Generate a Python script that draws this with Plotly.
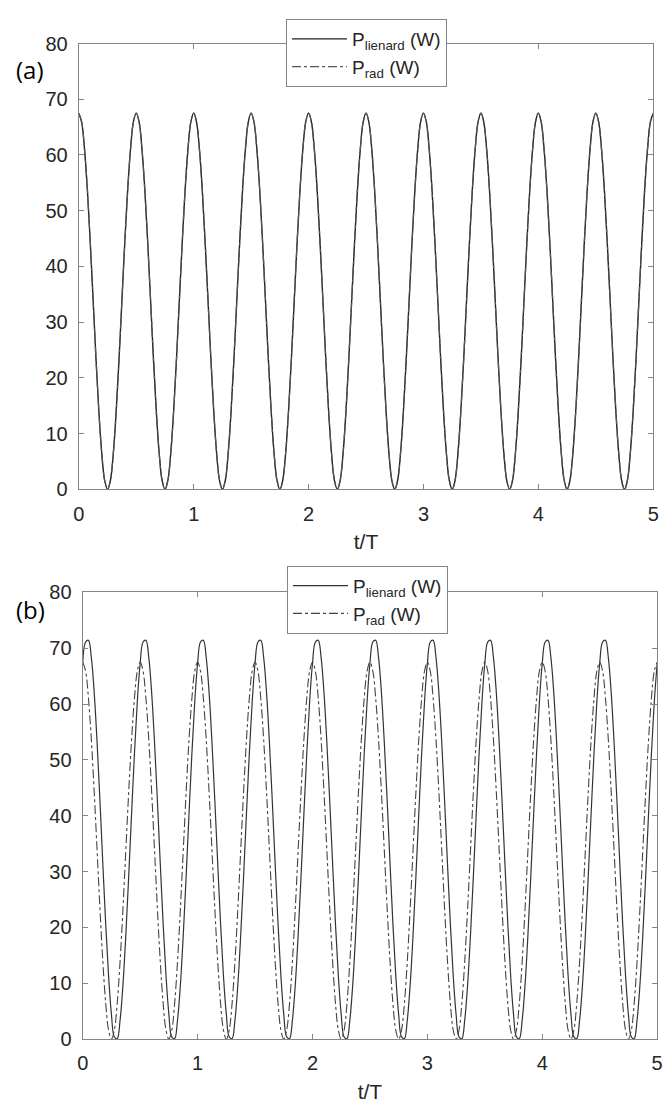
import plotly.graph_objects as go

# grade de tempo normalizado (t/T), passo 0.025
t_over_T = [i / 40 for i in range(201)]

# P_rad (W) - igual nos paineis (a) e (b)
p_rad = [
    67.5, 65.9, 61.0, 53.6, 44.2, 33.8, 23.3, 13.9, 6.4, 1.6, 0.0, 1.6, 6.4, 13.9, 23.3, 33.8, 44.2, 53.6, 61.0, 65.9,
    67.5, 65.9, 61.0, 53.6, 44.2, 33.8, 23.3, 13.9, 6.4, 1.6, 0.0, 1.6, 6.4, 13.9, 23.3, 33.8, 44.2, 53.6, 61.0, 65.9,
    67.5, 65.9, 61.0, 53.6, 44.2, 33.8, 23.3, 13.9, 6.4, 1.6, 0.0, 1.6, 6.4, 13.9, 23.3, 33.8, 44.2, 53.6, 61.0, 65.9,
    67.5, 65.9, 61.0, 53.6, 44.2, 33.8, 23.3, 13.9, 6.4, 1.6, 0.0, 1.6, 6.4, 13.9, 23.3, 33.8, 44.2, 53.6, 61.0, 65.9,
    67.5, 65.9, 61.0, 53.6, 44.2, 33.8, 23.3, 13.9, 6.4, 1.6, 0.0, 1.6, 6.4, 13.9, 23.3, 33.8, 44.2, 53.6, 61.0, 65.9,
    67.5, 65.9, 61.0, 53.6, 44.2, 33.8, 23.3, 13.9, 6.4, 1.6, 0.0, 1.6, 6.4, 13.9, 23.3, 33.8, 44.2, 53.6, 61.0, 65.9,
    67.5, 65.9, 61.0, 53.6, 44.2, 33.8, 23.3, 13.9, 6.4, 1.6, 0.0, 1.6, 6.4, 13.9, 23.3, 33.8, 44.2, 53.6, 61.0, 65.9,
    67.5, 65.9, 61.0, 53.6, 44.2, 33.8, 23.3, 13.9, 6.4, 1.6, 0.0, 1.6, 6.4, 13.9, 23.3, 33.8, 44.2, 53.6, 61.0, 65.9,
    67.5, 65.9, 61.0, 53.6, 44.2, 33.8, 23.3, 13.9, 6.4, 1.6, 0.0, 1.6, 6.4, 13.9, 23.3, 33.8, 44.2, 53.6, 61.0, 65.9,
    67.5, 65.9, 61.0, 53.6, 44.2, 33.8, 23.3, 13.9, 6.4, 1.6, 0.0, 1.6, 6.4, 13.9, 23.3, 33.8, 44.2, 53.6, 61.0, 65.9,
    67.5,
]

# no painel (a) P_lienard coincide com P_rad
p_lienard_a = p_rad

# P_lienard (W) do painel (b): pico maior e deslocado
p_lienard_b = [
    67.3, 71.1, 71.4, 68.3, 62.0, 53.1, 42.6, 31.4, 20.6, 11.3, 4.4, 0.4, 0.1, 3.4, 9.7, 18.6, 29.1, 40.3, 51.1, 60.4,
    67.3, 71.1, 71.4, 68.3, 62.0, 53.1, 42.6, 31.4, 20.6, 11.3, 4.4, 0.4, 0.1, 3.4, 9.7, 18.6, 29.1, 40.3, 51.1, 60.4,
    67.3, 71.1, 71.4, 68.3, 62.0, 53.1, 42.6, 31.4, 20.6, 11.3, 4.4, 0.4, 0.1, 3.4, 9.7, 18.6, 29.1, 40.3, 51.1, 60.4,
    67.3, 71.1, 71.4, 68.3, 62.0, 53.1, 42.6, 31.4, 20.6, 11.3, 4.4, 0.4, 0.1, 3.4, 9.7, 18.6, 29.1, 40.3, 51.1, 60.4,
    67.3, 71.1, 71.4, 68.3, 62.0, 53.1, 42.6, 31.4, 20.6, 11.3, 4.4, 0.4, 0.1, 3.4, 9.7, 18.6, 29.1, 40.3, 51.1, 60.4,
    67.3, 71.1, 71.4, 68.3, 62.0, 53.1, 42.6, 31.4, 20.6, 11.3, 4.4, 0.4, 0.1, 3.4, 9.7, 18.6, 29.1, 40.3, 51.1, 60.4,
    67.3, 71.1, 71.4, 68.3, 62.0, 53.1, 42.6, 31.4, 20.6, 11.3, 4.4, 0.4, 0.1, 3.4, 9.7, 18.6, 29.1, 40.3, 51.1, 60.4,
    67.3, 71.1, 71.4, 68.3, 62.0, 53.1, 42.6, 31.4, 20.6, 11.3, 4.4, 0.4, 0.1, 3.4, 9.7, 18.6, 29.1, 40.3, 51.1, 60.4,
    67.3, 71.1, 71.4, 68.3, 62.0, 53.1, 42.6, 31.4, 20.6, 11.3, 4.4, 0.4, 0.1, 3.4, 9.7, 18.6, 29.1, 40.3, 51.1, 60.4,
    67.3, 71.1, 71.4, 68.3, 62.0, 53.1, 42.6, 31.4, 20.6, 11.3, 4.4, 0.4, 0.1, 3.4, 9.7, 18.6, 29.1, 40.3, 51.1, 60.4,
    67.3,
]

x_ticks = [0, 1, 2, 3, 4, 5]
y_ticks = [0, 10, 20, 30, 40, 50, 60, 70, 80]
name_lienard = 'P<sub>lienard</sub> (W)'
name_rad = 'P<sub>rad</sub> (W)'

# a pagina tem margem de 8px no body: coordenadas da figura deslocadas
OFF = 8
W, H = 672 - OFF, 1116 - 2 * OFF
FONT = 'Liberation Sans, Arial, sans-serif'
AXIS_COLOR = '#858585'


def px_x(px):
    return (px - OFF) / W


def px_y(py):
    return 1 - (py - OFF) / H


fig = go.Figure()

#=========== painel (a) ===========
fig.add_trace(go.Scatter(x=t_over_T, y=p_lienard_a, name=name_lienard, mode='lines', line_shape='spline',
                         line=dict(color='#222222', width=1.4), xaxis='x', yaxis='y', legend='legend'))
fig.add_trace(go.Scatter(x=t_over_T, y=p_rad, name=name_rad, mode='lines', line_shape='spline',
                         line=dict(color='#555555', width=1.2, dash='dashdot'), xaxis='x', yaxis='y', legend='legend'))

#=========== painel (b) ===========
fig.add_trace(go.Scatter(x=t_over_T, y=p_lienard_b, name=name_lienard, mode='lines', line_shape='spline',
                         line=dict(color='#333333', width=1.2), xaxis='x2', yaxis='y2', legend='legend2'))
fig.add_trace(go.Scatter(x=t_over_T, y=p_rad, name=name_rad, mode='lines', line_shape='spline',
                         line=dict(color='#444444', width=1.1, dash='dashdot'), xaxis='x2', yaxis='y2', legend='legend2'))

axis_style = dict(showline=True, linecolor=AXIS_COLOR, linewidth=1.3, mirror='ticks', ticks='inside',
                  ticklen=5, tickcolor=AXIS_COLOR, showgrid=False, zeroline=False, ticklabeloverflow='allow',
                  tickfont=dict(size=20, color='#262626', family=FONT))

legend_style = dict(xanchor='left', yanchor='top', bgcolor='white', bordercolor=AXIS_COLOR, borderwidth=1,
                    font=dict(size=19, color='#262626', family=FONT), tracegroupgap=0, itemwidth=55)

title_x = dict(text='t/T', font=dict(size=21, color='#262626'), standoff=10)

fig.update_layout(
    width=W, height=H,
    margin=dict(l=0, r=0, t=0, b=0),
    paper_bgcolor='white', plot_bgcolor='white',
    font=dict(family=FONT, color='#262626'),
    xaxis=dict(domain=[px_x(74), px_x(659)], range=[0, 5], tickvals=x_ticks, anchor='y',
               ticklabelstandoff=6, title=title_x, **axis_style),
    yaxis=dict(domain=[px_y(488), px_y(33)], range=[0, 80], tickvals=y_ticks, anchor='x',
               ticklabelstandoff=6, **axis_style),
    xaxis2=dict(domain=[px_x(78), px_x(663)], range=[0, 5], tickvals=x_ticks, anchor='y2',
                ticklabelstandoff=6, title=title_x, **axis_style),
    yaxis2=dict(domain=[px_y(1049), px_y(593)], range=[0, 80], tickvals=y_ticks, anchor='x2',
                ticklabelstandoff=6, **axis_style),
    legend=dict(x=px_x(285), y=1, **legend_style),
    legend2=dict(x=px_x(286), y=px_y(566), **legend_style),
    annotations=[
        dict(text='(a)', x=0, y=px_y(60), xref='paper', yref='paper', xanchor='left', yanchor='middle',
             showarrow=False, font=dict(size=24, family='Open Sans, sans-serif', color='black')),
        dict(text='(b)', x=0, y=px_y(611), xref='paper', yref='paper', xanchor='left', yanchor='middle',
             showarrow=False, font=dict(size=24, family='Open Sans, sans-serif', color='black')),
    ],
)

fig.write_html('out.html')
